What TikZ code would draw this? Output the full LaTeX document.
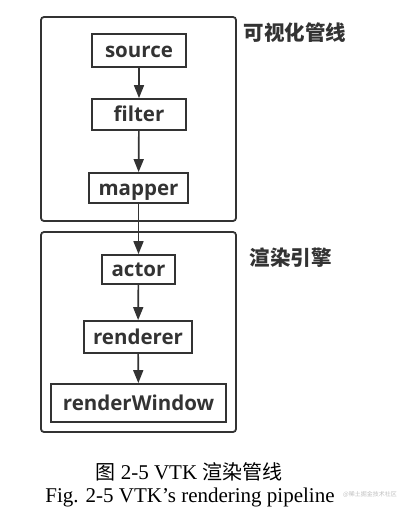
\documentclass[tikz,border=0pt]{standalone}
\usepackage{fontspec}
\setmainfont{Liberation Serif}
\newfontfamily\boxfont{Open Sans}
\newfontfamily\cjk{Noto Sans CJK SC}
\usetikzlibrary{arrows.meta}
\definecolor{ink}{HTML}{333333}
\tikzset{
  stage/.style={draw=ink, line width=1.8pt, rounded corners=3pt},
  blk/.style={draw=ink, line width=1.8pt, font=\boxfont\bfseries\fontsize{20.5}{20.5}\selectfont, text=ink, inner sep=0pt, text height=16pt, text depth=2pt},
  flow/.style={draw=ink, line width=1.7pt, -{Triangle[length=13pt,width=10pt]}},
  grp/.style={font=\cjk\bfseries\fontsize{20.5}{20.5}\selectfont, text=ink, anchor=west},
}
\begin{document}
\begin{tikzpicture}[x=1pt,y=-1pt]
\useasboundingbox (0,0) rectangle (410,520);
\draw[stage] (41,17) rectangle (236,221);
\draw[stage] (41,232) rectangle (236,432);
\node[grp] (g1) at (240,33) {可视化管线};
\node[grp] (g2) at (246,258) {渲染引擎};
\node[blk, minimum width=94pt, minimum height=33pt] (src) at (139,50.5) {source};
\node[blk, minimum width=94pt, minimum height=31pt] (flt) at (139,114.5) {filter};
\node[blk, minimum width=99pt, minimum height=30pt] (map) at (138.5,188) {mapper};
\node[blk, minimum width=73pt, minimum height=29pt] (act) at (138.5,269.5) {actor};
\node[blk, minimum width=108pt, minimum height=32pt] (ren) at (138,337) {renderer};
\node[blk, minimum width=175pt, minimum height=38pt] (win) at (138.5,403) {renderWindow};
\draw[flow] (src) -- (flt);
\draw[flow] (flt) -- (map);
\draw[flow] (map) -- (act);
\draw[flow] (act) -- (ren);
\draw[flow] (ren) -- (win);
\node[font=\fontsize{21}{21}\selectfont] (cap1) at (189,472) {{\cjk\fontsize{20}{20}\selectfont 图} 2-5 VTK {\cjk\fontsize{20}{20}\selectfont 渲染管线}};
\node[font=\fontsize{21}{21}\selectfont] (cap2) at (190,497) {Fig. 2-5 VTK’s rendering pipeline};
\node[font=\cjk\fontsize{6}{6}\selectfont, text=black!25, anchor=west, inner sep=0pt] (wm) at (343,494) {@稀土掘金技术社区};
\end{tikzpicture}
\end{document}
